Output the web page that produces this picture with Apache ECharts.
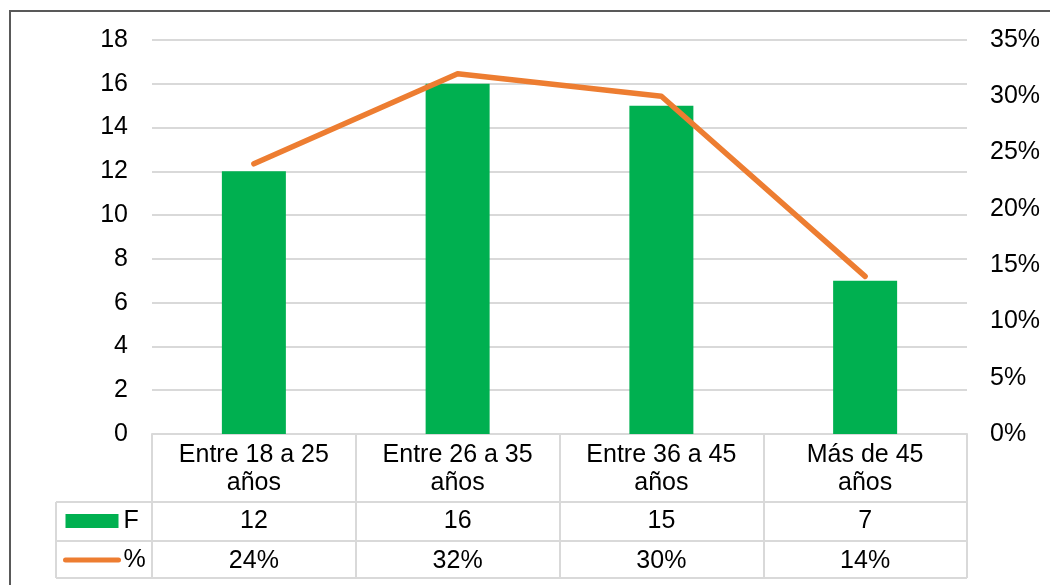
<!DOCTYPE html>
<html>
<head>
<meta charset="utf-8">
<script src="https://cdn.jsdelivr.net/npm/echarts@6/dist/echarts.min.js"></script>
<style>
  html, body { margin: 0; padding: 0; background: #fff; }
  #main { width: 1050px; height: 585px; }
</style>
</head>
<body>
<div id="main"></div>
<script>
// data
const categories = ['Entre 18 a 25\naños', 'Entre 26 a 35\naños', 'Entre 36 a 45\naños', 'Más de 45\naños'];
const freq = [12, 16, 15, 7];
const pct = [0.24, 0.32, 0.30, 0.14];

const green = '#00B050';
const orange = '#ED7D31';
const tableLine = '#D9D9D9';
const font = 'Liberation Sans, Arial, sans-serif';
const fs = 25;

// plot area (px)
const plotLeft = 152, plotRight = 967, plotTop = 40, plotBottom = 434;
const rowF = 502, rowP = 541, tableEnd = 578, tableLeft = 56;

const myChart = echarts.init(document.getElementById('main'));

const hline = (y, x1, x2) => ({
  type: 'line',
  shape: { x1: x1, y1: y, x2: x2, y2: y },
  style: { stroke: tableLine, lineWidth: 2 },
  silent: true
});
const vline = (x, y1, y2) => ({
  type: 'line',
  shape: { x1: x, y1: y1, x2: x, y2: y2 },
  style: { stroke: tableLine, lineWidth: 2 },
  silent: true
});

const option = {
  animation: false,
  textStyle: { fontFamily: font },
  grid: { left: plotLeft, right: 1050 - plotRight, top: plotTop, bottom: 585 - plotBottom },
  legend: {
    orient: 'vertical',
    left: 63,
    top: 508,
    padding: 0,
    itemWidth: 53,
    itemHeight: 14,
    itemGap: 13,
    textStyle: { fontSize: fs, lineHeight: 26, color: '#000', fontFamily: font },
    data: [
      { name: 'F', icon: 'rect' },
      { name: '%', itemStyle: { opacity: 0 }, lineStyle: { width: 5, cap: 'round', color: orange } }
    ]
  },
  xAxis: [
    {
      type: 'category',
      data: categories,
      axisLine: { lineStyle: { color: tableLine, width: 2 } },
      axisTick: { show: true, length: tableEnd - plotBottom, lineStyle: { color: tableLine, width: 2 } },
      axisLabel: { fontSize: fs, color: '#000', lineHeight: 28, margin: 7, interval: 0 }
    },
    {
      type: 'category',
      position: 'bottom',
      offset: rowF - plotBottom,
      data: freq.map((v) => String(v)),
      axisLine: { show: false },
      axisTick: { show: false },
      axisLabel: { fontSize: fs, color: '#000', lineHeight: 28, margin: 5, interval: 0 }
    },
    {
      type: 'category',
      position: 'bottom',
      offset: rowP - plotBottom,
      data: pct.map((v) => Math.round(v * 100) + '%'),
      axisLine: { show: false },
      axisTick: { show: false },
      axisLabel: { fontSize: fs, color: '#000', lineHeight: 28, margin: 6, interval: 0 }
    }
  ],
  yAxis: [
    {
      type: 'value',
      min: 0,
      max: 18,
      interval: 2,
      axisLine: { show: false },
      axisTick: { show: false },
      splitLine: { lineStyle: { color: tableLine, width: 2 } },
      axisLabel: { fontSize: fs, color: '#000', margin: 24 }
    },
    {
      type: 'value',
      min: 0,
      max: 0.35,
      interval: 0.05,
      axisLine: { show: false },
      axisTick: { show: false },
      splitLine: { show: false },
      axisLabel: {
        fontSize: fs,
        color: '#000',
        margin: 23,
        formatter: (v) => Math.round(v * 100) + '%'
      }
    }
  ],
  graphic: [
    {
      type: 'rect',
      shape: { x: 10, y: 11, width: 1200, height: 800 },
      style: { fill: 'none', stroke: '#595959', lineWidth: 2 },
      silent: true,
      z: -1
    },
    hline(rowF, tableLeft, plotRight),
    hline(rowP, tableLeft, plotRight),
    hline(tableEnd, tableLeft, plotRight),
    vline(tableLeft, rowF, tableEnd)
  ],
  series: [
    {
      name: 'F',
      type: 'bar',
      data: freq,
      barWidth: 64,
      itemStyle: { color: green }
    },
    {
      name: '%',
      type: 'line',
      yAxisIndex: 1,
      data: pct,
      symbol: 'none',
      lineStyle: { color: orange, width: 5.5, cap: 'round', join: 'round' },
      itemStyle: { color: orange },
      z: 3
    }
  ]
};

myChart.setOption(option);
</script>
</body>
</html>
